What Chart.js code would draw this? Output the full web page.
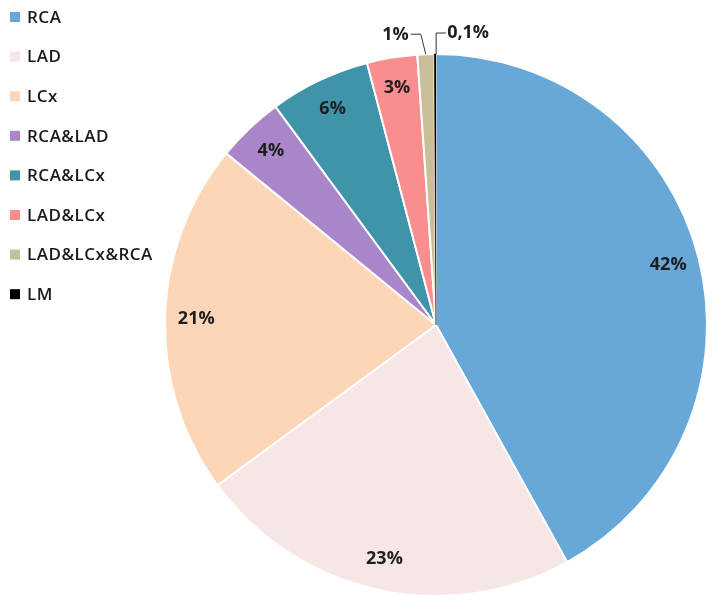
<!DOCTYPE html>
<html>
<head>
<meta charset="utf-8">
<script src="https://cdn.jsdelivr.net/npm/chart.js@4/dist/chart.umd.min.js"></script>
<style>
  html, body { margin: 0; padding: 0; background: #fff; }
  #wrap { width: 719px; height: 605px; }
</style>
</head>
<body>
<div id="wrap"><canvas id="chart" width="719" height="605"></canvas></div>
<script>
// data
const labels = ['RCA', 'LAD', 'LCx', 'RCA&LAD', 'RCA&LCx', 'LAD&LCx', 'LAD&LCx&RCA', 'LM'];
const values = [42, 23, 21, 4, 6, 3, 1, 0.1];
const pctText = ['42%', '23%', '21%', '4%', '6%', '3%', '1%', '0,1%'];
const colors = ['#68a8d9', '#f6e6e6', '#fcd6b6', '#a985c9', '#3f94aa', '#fa8e8e', '#c8be97', '#000000'];

const FONT = '"Open Sans", "Liberation Sans", sans-serif';

// legend at the left + percent labels on the slices
const labelPlugin = {
    id: 'pieLabels',
    afterDraw(c){
        const ctx = c.ctx;
        ctx.save();

        // legend
        ctx.font = '600 17px ' + FONT;
        ctx.letterSpacing = '0.5px';
        ctx.textBaseline = 'middle';
        ctx.textAlign = 'left';
        labels.forEach((l, i) => {
            const y = 17 + i * 39.6;
            ctx.fillStyle = colors[i];
            ctx.fillRect(10, y - 5, 10, 10);
            ctx.fillStyle = '#1a1a1a';
            ctx.fillText(l, 27, y + 1);
        });
        ctx.letterSpacing = '0px';

        // slice labels
        const arcs = c.getDatasetMeta(0).data;
        ctx.font = 'bold 18px ' + FONT;
        ctx.fillStyle = '#1e1e1e';
        ctx.strokeStyle = '#333';
        ctx.lineWidth = 1;
        arcs.forEach((a, i) => {
            const mid = (a.startAngle + a.endAngle) / 2;
            if(values[i] >= 2){
                const r = a.outerRadius * 0.885;
                ctx.textAlign = 'center';
                ctx.fillText(pctText[i], a.x + Math.cos(mid) * r, a.y + Math.sin(mid) * r);
            } else {
                const ex = a.x + Math.cos(mid) * a.outerRadius;
                const ey = a.y + Math.sin(mid) * a.outerRadius;
                ctx.beginPath();
                if(i === 6){
                    ctx.moveTo(ex, ey);
                    ctx.lineTo(ex - 5, ey - 20);
                    ctx.lineTo(ex - 15, ey - 20);
                    ctx.stroke();
                    ctx.textAlign = 'right';
                    ctx.fillText(pctText[i], ex - 17, ey - 19);
                } else {
                    ctx.moveTo(ex + 1, ey);
                    ctx.lineTo(ex + 1, ey - 21);
                    ctx.lineTo(ex + 11, ey - 21);
                    ctx.stroke();
                    ctx.textAlign = 'left';
                    ctx.fillText(pctText[i], ex + 12, ey - 21);
                }
            }
        });
        ctx.restore();
    }
};

const chart = new Chart(document.getElementById('chart').getContext('2d'), {
    type: 'pie',
    data: {
        labels: labels,
        datasets: [{
            data: values,
            backgroundColor: colors,
            borderColor: ['#fff', '#fff', '#fff', '#fff', '#fff', '#fff', '#fff', '#000'],
            borderWidth: [2, 2, 2, 2, 2, 2, 2, 0.5]
        }]
    },
    options: {
        responsive: false,
        animation: false,
        layout: { padding: { left: 164, right: 11, top: 53, bottom: 8 } },
        plugins: {
            legend: { display: false },
            tooltip: { enabled: false }
        }
    },
    plugins: [labelPlugin]
});
</script>
</body>
</html>
